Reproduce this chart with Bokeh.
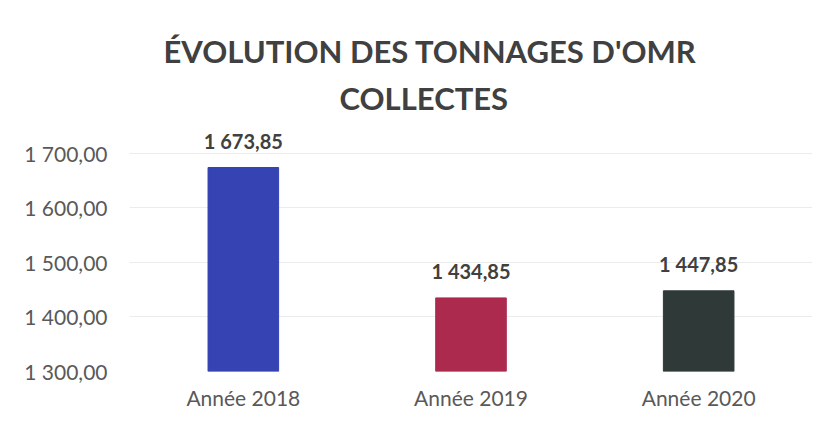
from bokeh.plotting import figure
from bokeh.models import ColumnDataSource, FixedTicker, Title, LabelSet
from bokeh.core.properties import value
from bokeh.embed import file_html
from bokeh.resources import INLINE

categories = ["Année 2018", "Année 2019", "Année 2020"]
values = [1673.85, 1434.85, 1447.85]
colors = ["#3543b3", "#ad2a4f", "#2f3a38"]
tick_values = [1300, 1400, 1500, 1600, 1700]
tick_labels = ["1 300,00", "1 400,00", "1 500,00", "1 600,00", "1 700,00"]


def fr(v):
    return f"{v:,.2f}".replace(",", " ").replace(".", ",")


src = ColumnDataSource(dict(cat=categories, val=values, col=colors,
                            lab=[fr(v) for v in values]))

p = figure(x_range=categories, y_range=(1300, 1749), width=821, height=414,
           output_backend="svg", toolbar_location=None,
           min_border_left=129, min_border_right=9, min_border_top=126,
           min_border_bottom=43)
p.title = None

p.vbar(x="cat", top="val", bottom=1300, width=0.31, color="col", source=src)

labels = LabelSet(x="cat", y="val", text="lab", source=src, text_align="center",
                  text_baseline="bottom", y_offset=15, text_font=value("Lato"),
                  text_font_style="bold", text_font_size="20px", text_color="#404040")
p.add_layout(labels)

t2 = Title(text="COLLECTES", align="left", text_font="Lato", text_font_style="bold",
           text_font_size="31px", text_color="#404040", standoff=20, offset=210)
t1 = Title(text="ÉVOLUTION DES TONNAGES D'OMR", align="left", text_font="Lato",
           text_font_style="bold", text_font_size="31px", text_color="#404040",
           standoff=-7, offset=34)
p.add_layout(t2, "above")
p.add_layout(t1, "above")

p.yaxis.ticker = FixedTicker(ticks=tick_values)
p.yaxis.major_label_overrides = {v: l for v, l in zip(tick_values, tick_labels)}
for ax in (p.xaxis[0], p.yaxis[0]):
    ax.axis_line_color = None
    ax.major_tick_line_color = None
    ax.minor_tick_line_color = None
    ax.major_label_text_font = "Lato"
    ax.major_label_text_color = "#595959"
p.yaxis.major_label_text_font_size = "21px"
p.xaxis.major_label_text_font_size = "21px"
p.yaxis.major_label_standoff = 16
p.xaxis.major_label_standoff = 7

p.xgrid.grid_line_color = None
p.ygrid.grid_line_color = "#ececec"
p.outline_line_color = None
p.x_range.range_padding = 0
p.background_fill_color = "white"
p.border_fill_color = "white"

open("out.html", "w").write(file_html(p, INLINE))
